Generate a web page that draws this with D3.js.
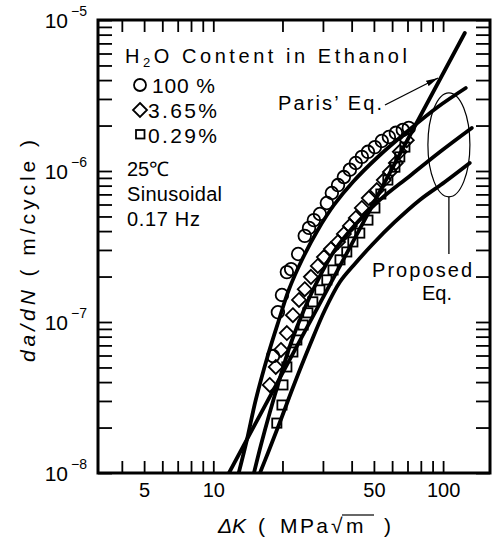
<!DOCTYPE html>
<html>
<head>
<meta charset="utf-8">
<script src="https://cdn.jsdelivr.net/npm/d3@7"></script>
<style>
  body { margin: 0; background: #fff; }
  svg { display: block; }
  text { font-family: "Liberation Sans", Arial, Helvetica, sans-serif; fill: #000; }
</style>
</head>
<body>
<svg id="chart" width="493" height="541"></svg>
<script>
// ---- measured crack growth data: ΔK (MPa√m) and da/dN (m/cycle) ----
const circleK    = [18.2, 19.1, 19.9, 20.9, 21.8, 23.4, 25.0, 26.1, 27.4, 29.1, 31.2, 32.8, 34.9, 37.0, 39.3, 41.7, 44.3, 47.1, 50.5, 54.1, 58.1, 62.3, 66.8, 70.9];
const circleRate = [5.95e-8, 1.16e-7, 1.51e-7, 2.14e-7, 2.24e-7, 2.82e-7, 3.72e-7, 4.20e-7, 4.73e-7, 5.19e-7, 6.14e-7, 7.15e-7, 8.07e-7, 9.12e-7, 1.02e-6, 1.13e-6, 1.24e-6, 1.34e-6, 1.44e-6, 1.58e-6, 1.68e-6, 1.79e-6, 1.87e-6, 1.93e-6];

const diamondK    = [17.6, 18.7, 19.7, 20.9, 22.2, 23.6, 25.0, 26.6, 28.5, 30.3, 32.5, 34.9, 37.0, 39.3, 41.7, 44.3, 47.5, 51.5, 55.2, 58.7, 62.3, 64.8, 69.5];
const diamondRate = [3.83e-8, 5.04e-8, 6.53e-8, 8.45e-8, 1.11e-7, 1.40e-7, 1.65e-7, 1.99e-7, 2.35e-7, 2.69e-7, 3.04e-7, 3.39e-7, 3.83e-7, 4.33e-7, 4.89e-7, 5.69e-7, 6.62e-7, 7.48e-7, 8.71e-7, 9.85e-7, 1.13e-6, 1.34e-6, 1.60e-6];

const squareK    = [18.9, 19.9, 20.1, 20.9, 22.2, 23.1, 24.6, 25.8, 27.1, 29.1, 31.2, 33.2, 35.6, 38.1, 40.5, 43.4, 47.1, 50.5, 53.6, 57.5, 61.7, 64.8, 68.2];
const squareRate = [2.14e-8, 2.82e-8, 3.83e-8, 5.04e-8, 6.33e-8, 7.60e-8, 9.55e-8, 1.15e-7, 1.36e-7, 1.63e-7, 1.90e-7, 2.21e-7, 2.58e-7, 2.91e-7, 3.39e-7, 3.88e-7, 4.73e-7, 5.69e-7, 7.04e-7, 8.71e-7, 1.06e-6, 1.24e-6, 1.44e-6];

// ---- Paris' law line and proposed-equation curves ----
const parisK    = [11.7, 124.3];
const parisRate = [1.0e-8, 8.2e-6];

const fit100K    = [12.9, 14.0, 15.3, 17.3, 19.3, 21.3, 24.3, 28.5, 33.5, 40.5, 52.0, 70.2, 94.8, 125.5];
const fit100Rate = [1.0e-8, 1.654e-8, 3.044e-8, 6.046e-8, 1.031e-7, 1.629e-7, 2.574e-7, 4.068e-7, 5.954e-7, 8.457e-7, 1.238e-6, 1.840e-6, 2.653e-6, 3.546e-6];

const fit365K    = [15.03, 16.12, 17.64, 19.50, 21.77, 24.80, 28.52, 33.81, 41.32, 53.07, 71.66, 96.76, 133.3];
const fit365Rate = [1.0e-8, 1.532e-8, 2.535e-8, 4.26e-8, 7.26e-8, 1.201e-7, 1.897e-7, 3.00e-7, 4.39e-7, 6.43e-7, 9.27e-7, 1.336e-6, 1.927e-6];

const fit029K    = [15.96, 17.29, 19.50, 22.43, 26.33, 30.60, 35.55, 40.91, 48.98, 61.66, 79.17, 101.7, 130.6];
const fit029Rate = [1.0e-8, 1.357e-8, 2.176e-8, 3.826e-8, 7.04e-8, 1.201e-7, 1.840e-7, 2.385e-7, 3.235e-7, 4.596e-7, 6.43e-7, 8.46e-7, 1.130e-6];

// ---- axes ----
const xTicks = [4, 5, 6, 7, 8, 9, 10, 20, 30, 40, 50, 60, 70, 80, 90, 100];
const xTickLabels = [5, 10, 50, 100];
const yExponents = [-5, -6, -7, -8];

const svg = d3.select("#chart");
const x = d3.scaleLog().domain([3.15, 160]).range([98, 490]);
const y = d3.scaleLog().domain([1e-8, 1e-5]).range([473, 20]);

const yTicks = [];
for (let e = -8; e < -5; e++) for (let m = 1; m <= 9; m++) yTicks.push(m * Math.pow(10, e));
yTicks.push(1e-5);

svg.append("clipPath").attr("id", "plot").append("rect")
  .attr("x", 98).attr("y", 20).attr("width", 392).attr("height", 453);

function styleAxis(g) {
  g.select(".domain").remove();
  g.selectAll(".tick line").attr("stroke", "#000").attr("stroke-width", 1.8);
}

svg.append("g").attr("transform", "translate(0,473)")
  .call(d3.axisBottom(x).tickValues(xTicks).tickSizeInner(-12).tickSizeOuter(0).tickPadding(10)
    .tickFormat(d => xTickLabels.includes(d) ? String(d) : ""))
  .call(styleAxis)
  .call(g => g.selectAll("text").attr("font-size", 20).attr("font-family", "Liberation Sans, Arial, sans-serif").attr("fill", "#000"));

svg.append("g").attr("transform", "translate(0,20)")
  .call(d3.axisTop(x).tickValues(xTicks).tickSizeInner(-12).tickSizeOuter(0).tickFormat(""))
  .call(styleAxis);

svg.append("g").attr("transform", "translate(98,0)")
  .call(d3.axisLeft(y).tickValues(yTicks).tickSizeInner(-14).tickSizeOuter(0).tickFormat(""))
  .call(styleAxis);

svg.append("g").attr("transform", "translate(490,0)")
  .call(d3.axisRight(y).tickValues(yTicks).tickSizeInner(-14).tickSizeOuter(0).tickFormat(""))
  .call(styleAxis);

// decade labels 10^n
yExponents.forEach(e => {
  const yy = y(Math.pow(10, e));
  svg.append("text").attr("x", 68).attr("y", yy + 8).attr("text-anchor", "end")
    .attr("font-size", 21).text("10");
  svg.append("text").attr("x", 71).attr("y", yy - 4)
    .attr("font-size", 14).text("−" + Math.abs(e));
});

// frame
svg.append("rect").attr("x", 98).attr("y", 20).attr("width", 392).attr("height", 453)
  .attr("fill", "none").attr("stroke", "#000").attr("stroke-width", 3);

// fitted lines
const line = d3.line().x(d => x(d[0])).y(d => y(d[1])).curve(d3.curveCatmullRom.alpha(0.5));
const curves = svg.append("g").attr("clip-path", "url(#plot)")
  .attr("fill", "none").attr("stroke", "#000").attr("stroke-width", 3.8).attr("stroke-linecap", "round");
[[parisK, parisRate], [fit100K, fit100Rate], [fit365K, fit365Rate], [fit029K, fit029Rate]].forEach(([ks, rs]) => {
  curves.append("path").attr("d", line(ks.map((k, i) => [k, rs[i]])));
});

// markers
const marks = svg.append("g").attr("fill", "none").attr("stroke", "#000").attr("stroke-width", 1.8);
circleK.forEach((k, i) => marks.append("circle").attr("cx", x(k)).attr("cy", y(circleRate[i])).attr("r", 6.3));
const diamondPath = "M0,-7L7,0L0,7L-7,0Z";
diamondK.forEach((k, i) => marks.append("path").attr("d", diamondPath)
  .attr("transform", `translate(${x(k)},${y(diamondRate[i])})`));
squareK.forEach((k, i) => marks.append("rect").attr("x", x(k) - 4.6).attr("y", y(squareRate[i]) - 4.6)
  .attr("width", 9.2).attr("height", 9.2));

// legend
const lg = svg.append("g");
const h2o = lg.append("text").attr("x", 125).attr("y", 63).attr("font-size", 20)
  .attr("textLength", 282).attr("lengthAdjust", "spacing");
h2o.append("tspan").text("H");
h2o.append("tspan").attr("font-size", 13).attr("dy", 4).text("2");
h2o.append("tspan").attr("dy", -4).text("O Content  in  Ethanol");

lg.append("circle").attr("cx", 140).attr("cy", 85).attr("r", 6).attr("fill", "none").attr("stroke", "#000").attr("stroke-width", 1.8);
lg.append("text").attr("x", 152).attr("y", 93).attr("font-size", 21)
  .attr("textLength", 63).attr("lengthAdjust", "spacing").text("100 %");
lg.append("path").attr("d", diamondPath).attr("transform", "translate(140,110)")
  .attr("fill", "none").attr("stroke", "#000").attr("stroke-width", 1.8);
lg.append("text").attr("x", 148).attr("y", 118).attr("font-size", 21)
  .attr("textLength", 69).attr("lengthAdjust", "spacing").text("3.65%");
lg.append("rect").attr("x", 136).attr("y", 130).attr("width", 8.5).attr("height", 8.5)
  .attr("fill", "none").attr("stroke", "#000").attr("stroke-width", 1.8);
lg.append("text").attr("x", 148).attr("y", 143).attr("font-size", 21)
  .attr("textLength", 69).attr("lengthAdjust", "spacing").text("0.29%");

lg.append("text").attr("x", 127).attr("y", 176).attr("font-size", 20).text("25℃");
lg.append("text").attr("x", 127).attr("y", 201).attr("font-size", 20)
  .attr("textLength", 95).attr("lengthAdjust", "spacing").text("Sinusoidal");
lg.append("text").attr("x", 127).attr("y", 226).attr("font-size", 20)
  .attr("textLength", 73).attr("lengthAdjust", "spacing").text("0.17 Hz");

// Paris' Eq. annotation
svg.append("text").attr("x", 278).attr("y", 110).attr("font-size", 20)
  .attr("textLength", 104).attr("lengthAdjust", "spacing").text("Paris’ Eq.");
svg.append("defs").append("marker").attr("id", "arrow").attr("viewBox", "0 0 12 6")
  .attr("refX", 12).attr("refY", 3).attr("markerWidth", 12).attr("markerHeight", 6)
  .attr("markerUnits", "userSpaceOnUse").attr("orient", "auto")
  .append("path").attr("d", "M0,0L12,3L0,6Z").attr("fill", "#000");
svg.append("line").attr("x1", 385).attr("y1", 105).attr("x2", 438).attr("y2", 78)
  .attr("stroke", "#000").attr("stroke-width", 1.3).attr("marker-end", "url(#arrow)");

// Proposed Eq. annotation
const ellK = 106, ellRate = 1.49e-6;
svg.append("ellipse").attr("cx", x(ellK)).attr("cy", y(ellRate)).attr("rx", 21).attr("ry", 52)
  .attr("fill", "none").attr("stroke", "#000").attr("stroke-width", 1.2);
svg.append("line").attr("x1", x(ellK)).attr("y1", y(ellRate) + 52).attr("x2", x(ellK)).attr("y2", 254)
  .attr("stroke", "#000").attr("stroke-width", 1.3);
svg.append("text").attr("x", 372).attr("y", 277).attr("font-size", 20)
  .attr("textLength", 100).attr("lengthAdjust", "spacing").text("Proposed");
svg.append("text").attr("x", 422).attr("y", 300).attr("font-size", 20).text("Eq.");

// x axis title: ΔK (MPa√m) with the radical's overbar drawn over m
const xtY = 533;
svg.append("text").attr("x", 218).attr("y", xtY).attr("font-size", 21).attr("font-style", "italic").text("ΔK");
svg.append("text").attr("x", 258).attr("y", xtY).attr("font-size", 21).text("(");
svg.append("text").attr("x", 280).attr("y", xtY).attr("font-size", 21)
  .attr("textLength", 48).attr("lengthAdjust", "spacing").text("MPa");
svg.append("text").attr("x", 331).attr("y", xtY).attr("font-size", 21).text("√");
svg.append("text").attr("x", 346).attr("y", xtY).attr("font-size", 21)
  .attr("textLength", 26).attr("lengthAdjust", "spacing").text("m");
svg.append("line").attr("x1", 342).attr("y1", 515).attr("x2", 374).attr("y2", 515)
  .attr("stroke", "#000").attr("stroke-width", 1.2);
svg.append("text").attr("x", 384).attr("y", xtY).attr("font-size", 21).text(")");

// y axis title
const yt = svg.append("text").attr("transform", "translate(35,362) rotate(-90)").attr("font-size", 21)
  .attr("textLength", 222).attr("lengthAdjust", "spacing");
yt.append("tspan").attr("font-style", "italic").text("da/dN");
yt.append("tspan").text("  ( m/cycle )");
</script>
</body>
</html>
